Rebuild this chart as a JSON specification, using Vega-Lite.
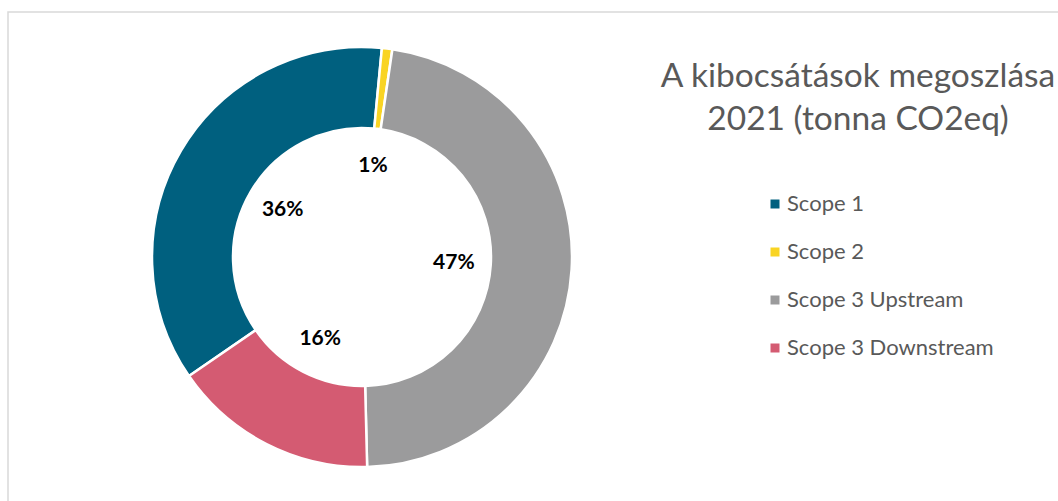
{
  "$schema": "https://vega.github.io/schema/vega-lite/v6.json",
  "autosize": {"type": "pad"},
  "padding": {"left": 7, "top": 11, "right": 0, "bottom": 0},
  "background": "white",
  "spacing": 0,
  "bounds": "flush",
  "datasets": {
    "emissions": [
      {"scope": "Scope 1", "idx": 1, "share": 0.361},
      {"scope": "Scope 2", "idx": 2, "share": 0.008},
      {"scope": "Scope 3 Upstream", "idx": 3, "share": 0.473},
      {"scope": "Scope 3 Downstream", "idx": 4, "share": 0.158}
    ]
  },
  "hconcat": [
    {
      "width": 708,
      "height": 490,
      "view": {"stroke": "#d9d9d9", "strokeWidth": 1.5, "strokeDash": [708, 1198, 491, 1]},
      "title": {
        "text": ["A kibocsátások megoszlása", "2021 (tonna CO2eq)"],
        "font": "Lato",
        "fontSize": 33.5,
        "fontWeight": "normal",
        "color": "#595959",
        "anchor": "middle",
        "frame": "group",
        "orient": "top",
        "lineHeight": 43,
        "dx": 496,
        "dy": 129
      },
      "data": {"name": "emissions"},
      "encoding": {
        "theta": {"field": "share", "type": "quantitative", "stack": true, "scale": {"range": [4.110, 10.393]}},
        "order": {"field": "idx", "type": "quantitative"}
      },
      "layer": [
        {
          "mark": {"type": "arc", "outerRadius": 210, "innerRadius": 129, "stroke": "white", "strokeWidth": 2.5},
          "encoding": {
            "color": {
              "field": "scope",
              "type": "nominal",
              "scale": {
                "domain": ["Scope 1", "Scope 2", "Scope 3 Upstream", "Scope 3 Downstream"],
                "range": ["#00607f", "#f9d423", "#9b9b9c", "#d45b72"]
              },
              "legend": {
                "title": null,
                "orient": "none",
                "legendX": 756,
                "legendY": 181,
                "padding": 0,
                "symbolType": "square",
                "symbolSize": 81,
                "symbolStrokeWidth": 0,
                "labelFont": "Lato",
                "labelFontSize": 22,
                "labelColor": "#595959",
                "labelOffset": 1,
                "rowPadding": 26,
                "labelLimit": 400
              }
            }
          }
        },
        {
          "mark": {"type": "text", "radius": 92, "font": "Lato", "fontSize": 21, "fontWeight": "bold", "color": "black"},
          "encoding": {"text": {"field": "share", "type": "quantitative", "format": ".0%"}}
        }
      ]
    },
    {
      "width": 343,
      "height": 490,
      "view": {"stroke": "#d9d9d9", "strokeWidth": 1.5, "strokeDash": [343, 3000]},
      "data": {"name": "emissions"},
      "mark": {"type": "point", "opacity": 0}
    }
  ]
}
